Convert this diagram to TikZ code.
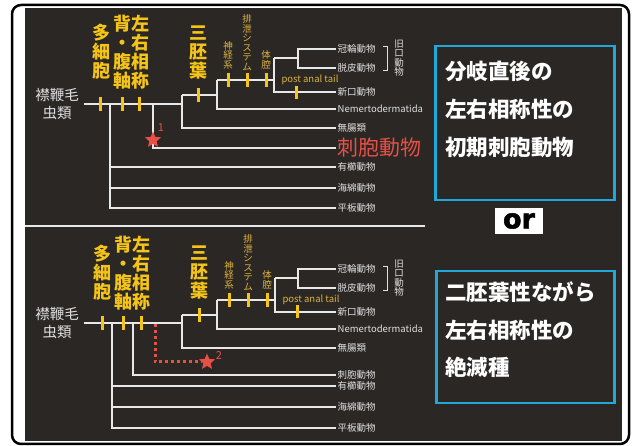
\documentclass[tikz,border=0pt]{standalone}
\usepackage{fontspec}
\usetikzlibrary{shapes.geometric}
\newfontfamily\jp{Noto Sans CJK JP}
\newfontfamily\orfont[FakeBold=2]{DejaVu Sans Bold}
\definecolor{bgdark}{RGB}{43,39,37}
\definecolor{linegray}{RGB}{232,232,232}
\definecolor{leafwhite}{RGB}{225,225,225}
\definecolor{yelbold}{RGB}{245,196,24}
\definecolor{yelsmall}{RGB}{222,180,60}
\definecolor{starred}{RGB}{232,80,70}
\definecolor{cyanbox}{RGB}{32,168,216}
\begin{document}
\begin{tikzpicture}[x=1pt,y=-1pt,
 treeline/.style={draw=linegray,line width=2pt},
 apotick/.style={draw=yelbold,line width=3pt},
 leaf/.style={anchor=west,inner sep=1.5pt,text=leafwhite,font=\jp\fontsize{9.5}{10}\selectfont},
 bigyel/.style={anchor=south,inner sep=0pt,text=yelbold,align=center,font=\jp\bfseries\fontsize{18}{19}\selectfont},
 smallyel/.style={anchor=south,inner sep=0pt,text=yelsmall,align=center,font=\jp\fontsize{9.5}{9.5}\selectfont},
 patlab/.style={inner sep=0pt,text=yelsmall,font=\jp\fontsize{9.5}{10}\selectfont},
 kyuko/.style={inner sep=0pt,text=leafwhite,align=center,font=\jp\fontsize{9.5}{9.5}\selectfont},
 bracketline/.style={draw=leafwhite,line width=0.8pt},
 rootlab/.style={inner sep=0pt,text=leafwhite,align=center,font=\jp\fontsize{14.5}{18}\selectfont},
 boxtext/.style={anchor=west,inner sep=0pt,text=white,font=\jp\bfseries\fontsize{21.5}{22}\selectfont},
 infobox/.style={draw=cyanbox,line width=2.5pt,anchor=north west,inner sep=0pt},
 redstar/.style={star,star points=5,star point ratio=2.2,fill=starred,draw=none,minimum size=17pt,inner sep=0pt},
 rednum/.style={inner sep=0pt,text=starred,font=\jp\fontsize{11}{11}\selectfont},
 reddot/.style={draw=starred,line width=3pt,dash pattern=on 3pt off 3pt},
]
\useasboundingbox (0,0) rectangle (638,446);
\fill[white] (0,0) rectangle (638,446);
\draw[black,line width=2.5pt,rounded corners=9pt] (12,5) rectangle (629,444);
\fill[bgdark] (25,8) rectangle (622,441);
\draw[linegray,line width=2.5pt] (25,226) -- (425,226);

% ---------- or box ----------
\node[fill=white,minimum width=48pt,minimum height=26pt,inner sep=0pt,text=black,font=\orfont\fontsize{27}{27}\selectfont] (orbox) at (519,221) {or};

% ---------- info boxes ----------
\node[infobox,minimum width=179pt,minimum height=154pt] (boxA) at (434,45) {};
\node[boxtext] (ta1) at (445,71) {分岐直後の};
\node[boxtext] (ta2) at (445,109) {左右相称性の};
\node[boxtext] (ta3) at (445,147) {初期刺胞動物};
\node[infobox,minimum width=178pt,minimum height=132pt] (boxB) at (435,270) {};
\node[boxtext] (tb1) at (445,292) {二胚葉性ながら};
\node[boxtext] (tb2) at (445,330) {左右相称性の};
\node[boxtext] (tb3) at (445,367) {絶滅種};

% ================= TOP PANEL =================
\node[rootlab] (rootT) at (57,104) {襟鞭毛\\虫類};
\node[leaf] (Tkan) at (336,49) {冠輪動物};
\node[leaf] (Tdat) at (336,68) {脱皮動物};
\node[leaf] (Tshk) at (336,92) {新口動物};
\node[leaf] (Tnem) at (336,109) {Nemertodermatida};
\node[leaf] (Tmu) at (336,128) {無腸類};
\node[leaf,text=starred,font=\jp\fontsize{21}{22}\selectfont] (Tshi) at (336,148) {刺胞動物};
\node[leaf] (Tyu) at (336,167) {有櫛動物};
\node[leaf] (Tkai) at (336,188) {海綿動物};
\node[leaf] (Thei) at (336,208) {平板動物};

\coordinate (TA0) at (84,104);
\coordinate (TA1) at (110,104);
\coordinate (TA2) at (153,104);
\coordinate (TA3) at (182,104);
\coordinate (TB1) at (182,95);
\coordinate (TB2) at (217,95);
\coordinate (TC1) at (217,80);
\coordinate (TC2) at (274,80);
\coordinate (TD1) at (274,58);
\coordinate (TD2) at (298,58);

\draw[treeline] (TA0) -- (TA3);
\draw[treeline] (TA1) |- (Tyu.west);
\draw[treeline] (TA1) |- (Tkai.west);
\draw[treeline] (TA1) |- (Thei.west);
\draw[treeline] (TA2) |- (Tshi.west);
\draw[treeline] (TB1) |- (Tmu.west);
\draw[treeline] (TB1) -- (TB2);
\draw[treeline] (TC1) |- (Tnem.west);
\draw[treeline] (TC1) -- (TC2);
\draw[treeline] (TD1) |- (Tshk.west);
\draw[treeline] (TD1) -- (TD2);
\draw[treeline] (Tkan.west) -| (TD2) |- (Tdat.west);

\draw[apotick] (100,97) -- (100,111);
\draw[apotick] (122,97) -- (122,111);
\draw[apotick] (139,97) -- (139,111);
\draw[apotick] (198,88) -- (198,102);
\draw[apotick] (228,73) -- (228,87);
\draw[apotick] (247,73) -- (247,87);
\draw[apotick] (266,73) -- (266,87);
\draw[apotick] (296,86) -- (296,99);

\node[bigyel] (Tm1) at (101,79) {多\\細\\胞};
\node[bigyel] (Tm2) at (122,89) {背\\・\\腹\\軸};
\node[bigyel] (Tm3) at (140,89) {左\\右\\相\\称};
\node[bigyel] (Tm4) at (198,79) {三\\胚\\葉};
\node[smallyel] (Ts1) at (228,69) {神\\経\\系};
\node[smallyel] (Ts2) at (247,71) {排\\泄\\シ\\ス\\テ\\ム};
\node[smallyel] (Ts3) at (266,69) {体\\腔};
\node[patlab] (Tpat) at (310,80) {post anal tail};

\draw[bracketline] (383,46) -- (387,46) -- (387,70) -- (383,70);
\node[kyuko] (Tkyu) at (399,58) {旧\\口\\動\\物};

\node[redstar] (star1) at (153,140) {};
\node[rednum] (n1) at (161,128) {1};

% ================= BOTTOM PANEL =================
\node[rootlab] (rootB) at (57,323) {襟鞭毛\\虫類};
\node[leaf] (Bkan) at (336,269) {冠輪動物};
\node[leaf] (Bdat) at (336,288) {脱皮動物};
\node[leaf] (Bshk) at (336,312) {新口動物};
\node[leaf] (Bnem) at (336,329) {Nemertodermatida};
\node[leaf] (Bmu) at (336,348) {無腸類};
\node[leaf] (Bshi) at (336,375) {刺胞動物};
\node[leaf] (Byu) at (336,386) {有櫛動物};
\node[leaf] (Bkai) at (336,407) {海綿動物};
\node[leaf] (Bhei) at (336,428) {平板動物};

\coordinate (BA0) at (84,323);
\coordinate (BA1) at (112,323);
\coordinate (BA2) at (133,323);
\coordinate (BA3) at (182,323);
\coordinate (BB1) at (182,315);
\coordinate (BB2) at (217,315);
\coordinate (BC1) at (217,300);
\coordinate (BC2) at (275,300);
\coordinate (BD1) at (275,278);
\coordinate (BD2) at (298,278);
\coordinate (BR0) at (155,324);

\draw[treeline] (BA0) -- (BA3);
\draw[treeline] (BA1) |- (Byu.west);
\draw[treeline] (BA1) |- (Bkai.west);
\draw[treeline] (BA1) |- (Bhei.west);
\draw[treeline] (BA2) |- (Bshi.west);
\draw[treeline] (BB1) |- (Bmu.west);
\draw[treeline] (BB1) -- (BB2);
\draw[treeline] (BC1) |- (Bnem.west);
\draw[treeline] (BC1) -- (BC2);
\draw[treeline] (BD1) |- (Bshk.west);
\draw[treeline] (BD1) -- (BD2);
\draw[treeline] (Bkan.west) -| (BD2) |- (Bdat.west);

\draw[apotick] (102,316) -- (102,330);
\draw[apotick] (123,316) -- (123,330);
\draw[apotick] (141,316) -- (141,330);
\draw[apotick] (199,308) -- (199,322);
\draw[apotick] (229,293) -- (229,307);
\draw[apotick] (248,293) -- (248,307);
\draw[apotick] (267,293) -- (267,307);
\draw[apotick] (297,305) -- (297,318);

\node[bigyel] (Bm1) at (102,300) {多\\細\\胞};
\node[bigyel] (Bm2) at (123,310) {背\\・\\腹\\軸};
\node[bigyel] (Bm3) at (141,310) {左\\右\\相\\称};
\node[bigyel] (Bm4) at (199,299) {三\\胚\\葉};
\node[smallyel] (Bs1) at (229,289) {神\\経\\系};
\node[smallyel] (Bs2) at (248,291) {排\\泄\\シ\\ス\\テ\\ム};
\node[smallyel] (Bs3) at (267,289) {体\\腔};
\node[patlab] (Bpat) at (311,300) {post anal tail};

\draw[bracketline] (383,266) -- (387,266) -- (387,290) -- (383,290);
\node[kyuko] (Bkyu) at (399,278) {旧\\口\\動\\物};

\node[redstar] (star2) at (207,362) {};
\draw[reddot] (BR0) |- (star2.west);
\node[rednum] (n2) at (219,356) {2};
\end{tikzpicture}
\end{document}
